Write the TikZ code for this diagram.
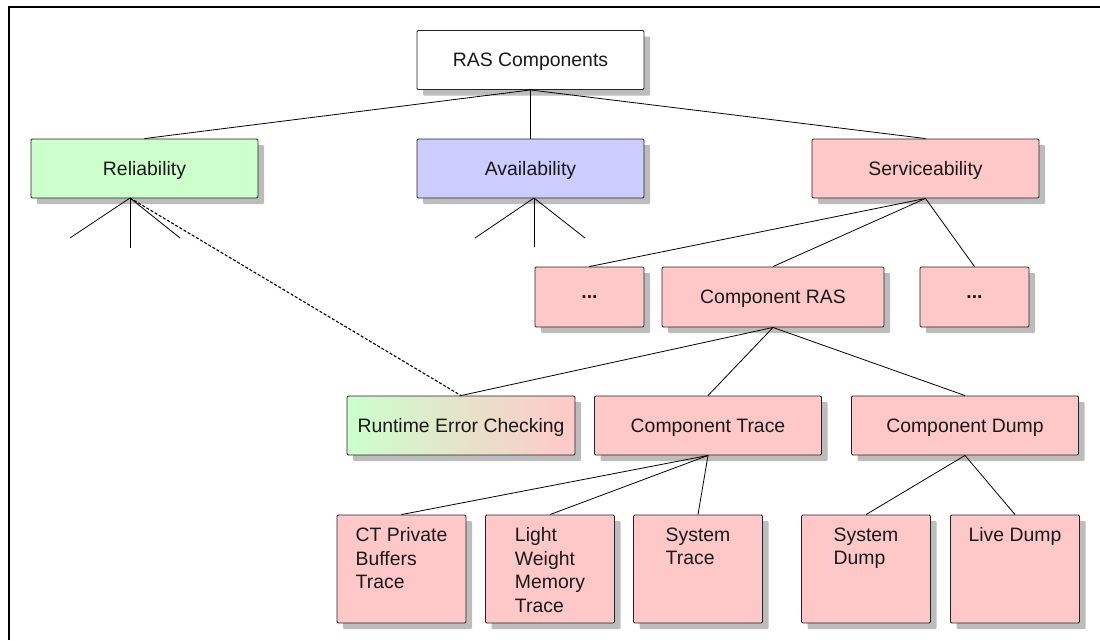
\documentclass[tikz,border=0pt]{standalone}
\usepackage{fontspec}
\setmainfont{Liberation Sans}
\usetikzlibrary{shadows,calc}

\definecolor{relgreen}{RGB}{204,255,204}
\definecolor{avblue}{RGB}{204,204,255}
\definecolor{srvpink}{RGB}{255,200,200}
\definecolor{shadowgray}{RGB}{188,188,188}
\definecolor{edgegray}{RGB}{35,35,35}
\definecolor{txtgray}{RGB}{25,25,25}

\begin{document}
\begin{tikzpicture}[x=1pt,y=-1pt,
  box/.style={draw=edgegray, line width=0.9pt, rounded corners=1.2pt, inner sep=0pt, text depth=0pt,
    general shadow={fill=shadowgray, shadow xshift=6pt, shadow yshift=-6pt},
    font=\fontsize{19.4}{23.5}\selectfont, text=txtgray},
  widebox/.style={box, minimum width=227pt, minimum height=59pt},
  dotbox/.style={box, minimum width=109pt, minimum height=60pt, fill=srvpink},
  tallbox/.style={box, minimum width=129pt, minimum height=108pt, fill=srvpink},
  lbl/.style={inner sep=0pt, align=left, anchor=north, font=\fontsize{19.4}{23.5}\selectfont, text=txtgray},
  conn/.style={draw=black, line width=0.8pt},
  dashconn/.style={draw=black, line width=1.1pt, dash pattern=on 3pt off 1.8pt}
]
\useasboundingbox (0,0) rectangle (1100,640);

% frame
\draw[line width=1.4pt] (9,640) -- (9,7) -- (1100,7);

% level 0
\node[widebox, fill=white] (ras) at (530.5,60) {RAS Components};

% level 1
\node[widebox, fill=relgreen] (rel) at (144.5,168.5) {Reliability};
\node[widebox, fill=avblue] (avail) at (530.5,168.5) {Availability};
\node[widebox, fill=srvpink] (serv) at (925.5,168.5) {Serviceability};

% level 2
\node[dotbox] (dots1) at (589.5,297) {\textbf{...}};
\node[box, minimum width=222pt, minimum height=60pt, fill=srvpink] (crans) at (773,297) {Component RAS};
\node[dotbox] (dots2) at (974.5,297) {\textbf{...}};

% level 3
\node[widebox, left color=relgreen, right color=srvpink, minimum width=228pt] (rec) at (461,425.5) {Runtime Error Checking};
\node[widebox, fill=srvpink] (ctrace) at (708,425.5) {Component Trace};
\node[widebox, fill=srvpink] (cdump) at (965,425.5) {Component Dump};

% level 4
\node[tallbox] (ctp) at (401.5,569) {};
\node[lbl] (ctp-t) at ($(ctp.north)+(0,13)$) {CT Private\\Buffers\\Trace};
\node[tallbox] (lwmt) at (550,569) {};
\node[lbl] (lwmt-t) at ($(lwmt.north)+(0,13)$) {Light\\Weight\\Memory\\Trace};
\node[tallbox] (strace) at (698,569) {};
\node[lbl] (strace-t) at ($(strace.north)+(0,13)$) {System\\Trace};
\node[tallbox] (sdump) at (866,569) {};
\node[lbl] (sdump-t) at ($(sdump.north)+(0,13)$) {System\\Dump};
\node[tallbox] (ldump) at (1015,569) {};
\node[lbl] (ldump-t) at ($(ldump.north)+(0,13)$) {Live Dump};

% stub coordinates
\coordinate (relb) at (130,198);
\coordinate (rs1) at (70,238);
\coordinate (rs2) at (130,248);
\coordinate (rs3) at (180,238);
\coordinate (avb) at (534,198);
\coordinate (as1) at (475,238);
\coordinate (as2) at (534,247);
\coordinate (as3) at (585,238);

% connectors
\draw[conn] (ras.south) -- (rel.north);
\draw[conn] (ras.south) -- (avail.north);
\draw[conn] (ras.south) -- (serv.north);

\draw[conn] (relb) -- (rs1);
\draw[conn] (relb) -- (rs2);
\draw[conn] (relb) -- (rs3);
\draw[conn] (avb) -- (as1);
\draw[conn] (avb) -- (as2);
\draw[conn] (avb) -- (as3);

\draw[conn] (serv.south) -- (dots1.north);
\draw[conn] (serv.south) -- (crans.north);
\draw[conn] (serv.south) -- (dots2.north);

\draw[conn] (crans.south) -- (rec.north);
\draw[conn] (crans.south) -- (ctrace.north);
\draw[conn] (crans.south) -- (cdump.north);

\draw[dashconn] (relb) -- (rec.north);

\draw[conn] (ctrace.south) -- (ctp.north);
\draw[conn] (ctrace.south) -- (lwmt.north);
\draw[conn] (ctrace.south) -- (strace.north);

\draw[conn] (cdump.south) -- (sdump.north);
\draw[conn] (cdump.south) -- (ldump.north);
\end{tikzpicture}
\end{document}
